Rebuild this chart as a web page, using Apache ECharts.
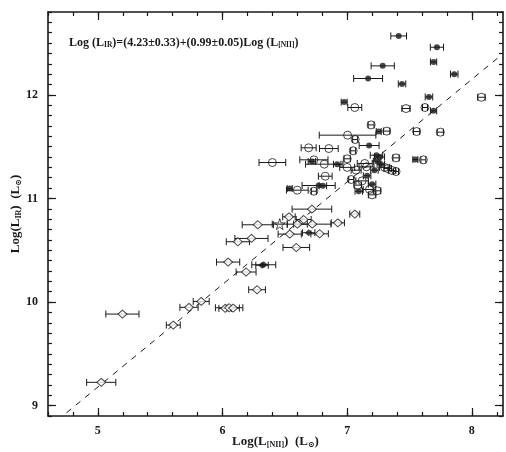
<!DOCTYPE html>
<html>
<head>
<meta charset="utf-8">
<script src="https://cdn.jsdelivr.net/npm/echarts@6/dist/echarts.min.js"></script>
<style>
  html, body { margin: 0; background: #fff; }
  #chart { width: 506px; height: 452px; }
</style>
</head>
<body>
<div id="chart"></div>
<script>
// each point: [log L_[NII], log L_IR, half error bar in x]
const filledCircles = [
  [7.413, 12.569, 0.063], [7.72, 12.46, 0.053], [7.285, 12.28, 0.093],
  [7.693, 12.318, 0.025], [7.859, 12.2, 0.03], [7.168, 12.158, 0.116],
  [7.44, 12.106, 0.03], [7.656, 11.98, 0.03], [6.976, 11.93, 0.024],
  [7.693, 11.846, 0.025], [7.253, 11.646, 0.02], [7.176, 11.511, 0.08],
  [6.717, 11.357, 0.03], [6.92, 11.33, 0.03], [7.235, 11.418, 0.05],
  [7.26, 11.40, 0.04], [7.547, 11.376, 0.02], [7.219, 11.273, 0.03],
  [7.16, 11.219, 0.03], [7.2, 11.138, 0.03], [6.771, 11.125, 0.133],
  [6.805, 11.122, 0.03], [6.539, 11.096, 0.02], [7.093, 11.07, 0.03],
  [7.27, 11.33, 0.03], [7.24, 11.36, 0.03]
];
const openCircles = [
  [7.061, 11.878, 0.056], [7.472, 11.868, 0.033], [7.624, 11.878, 0.02],
  [8.077, 11.977, 0.03], [7.192, 11.71, 0.024], [7.317, 11.65, 0.025],
  [7.557, 11.646, 0.025], [7.747, 11.64, 0.025], [7.003, 11.611, 0.227],
  [7.064, 11.569, 0.02], [6.691, 11.489, 0.06], [6.853, 11.482, 0.075],
  [7.048, 11.46, 0.02], [6.4, 11.347, 0.107], [6.733, 11.373, 0.113],
  [6.816, 11.331, 0.15], [7.0, 11.383, 0.025], [7.0, 11.3, 0.06],
  [7.072, 11.273, 0.04], [7.141, 11.338, 0.06], [7.392, 11.392, 0.025],
  [7.611, 11.373, 0.02], [7.392, 11.26, 0.02], [7.325, 11.289, 0.03],
  [7.155, 11.305, 0.06], [7.032, 11.183, 0.02], [6.824, 11.215, 0.055],
  [7.085, 11.129, 0.03], [6.6, 11.08, 0.087], [6.733, 11.07, 0.02],
  [7.2, 11.035, 0.03], [7.24, 11.074, 0.03], [7.179, 11.087, 0.05],
  [7.12, 11.17, 0.05], [7.3, 11.3, 0.04], [7.36, 11.27, 0.03]
];
const openDiamonds = [
  [6.717, 10.897, 0.159], [7.061, 10.849, 0.04], [6.925, 10.765, 0.053],
  [6.533, 10.823, 0.05], [6.651, 10.797, 0.06], [6.72, 10.752, 0.15],
  [6.283, 10.746, 0.125], [6.6, 10.752, 0.08], [6.539, 10.656, 0.093],
  [6.779, 10.659, 0.07], [6.232, 10.614, 0.133], [6.123, 10.582, 0.093],
  [6.592, 10.527, 0.107], [6.045, 10.386, 0.093], [6.189, 10.29, 0.08],
  [6.277, 10.119, 0.067], [5.829, 10.006, 0.064], [5.731, 9.949, 0.073],
  [6.021, 9.939, 0.05], [6.053, 9.945, 0.11], [6.085, 9.942, 0.05],
  [5.197, 9.884, 0.133], [5.605, 9.778, 0.056], [5.027, 9.225, 0.117]
];
const filledDiamonds = [
  [6.691, 10.669, 0.05], [6.331, 10.36, 0.096], [6.317, 10.355, 0.05]
];
const stars = [
  [6.459, 10.752, 0.06]
];

const xRange = [4.6, 8.25];
const yRange = [8.9, 12.8];
const xTicks = [5, 6, 7, 8];
const yTicks = [9, 10, 11, 12];
const fitIntercept = 4.23;
const fitSlope = 0.99;

const serif = '"Liberation Serif", "DejaVu Serif", serif';
const ink = '#1a1a1a';

const allPts = filledCircles.concat(openCircles, openDiamonds, filledDiamonds, stars);

function renderErr(params, api) {
  const x = api.value(0), y = api.value(1), e = api.value(2);
  const a = api.coord([x - e, y]);
  const b = api.coord([x + e, y]);
  const h = 3.5;
  const st = { stroke: ink, lineWidth: 1 };
  return {
    type: 'group',
    children: [
      { type: 'line', shape: { x1: a[0], y1: a[1], x2: b[0], y2: b[1] }, style: st },
      { type: 'line', shape: { x1: a[0], y1: a[1] - h, x2: a[0], y2: a[1] + h }, style: st },
      { type: 'line', shape: { x1: b[0], y1: b[1] - h, x2: b[0], y2: b[1] + h }, style: st }
    ]
  };
}

const gridBox = { left: 48, right: 3, top: 12, bottom: 36, outerBoundsMode: 'none', containLabel: false };

function xAxis(grid, position, ticks, len, major) {
  return {
    type: 'value', gridIndex: grid, position: position,
    min: xRange[0], max: xRange[1],
    axisLine: { show: major, lineStyle: { color: ink, width: 1.6 } },
    splitLine: { show: false },
    axisTick: { inside: true, length: len, customValues: ticks, lineStyle: { color: ink, width: 1.2 } },
    axisLabel: {
      show: major && position === 'bottom', customValues: ticks, margin: 9,
      color: ink, fontFamily: serif, fontWeight: 'bold', fontSize: 12
    }
  };
}
function yAxis(grid, position, ticks, len, major) {
  return {
    type: 'value', gridIndex: grid, position: position,
    min: yRange[0], max: yRange[1],
    axisLine: { show: major, lineStyle: { color: ink, width: 1.6 } },
    splitLine: { show: false },
    axisTick: { inside: true, length: len, customValues: ticks, lineStyle: { color: ink, width: 1.2 } },
    axisLabel: {
      show: major && position === 'left', customValues: ticks, margin: 10,
      color: ink, fontFamily: serif, fontWeight: 'bold', fontSize: 12
    }
  };
}

const xMinor = [], yMinor = [];
for (let i = 23; i <= 41; i++) xMinor.push(+(i * 0.2).toFixed(1));
for (let i = 89; i <= 128; i++) yMinor.push(+(i * 0.1).toFixed(1));

const xAxes = [
  xAxis(0, 'bottom', xTicks, 8, true),
  xAxis(0, 'top', xTicks, 8, true),
  xAxis(1, 'bottom', xMinor, 4, false),
  xAxis(1, 'top', xMinor, 4, false)
];
const yAxes = [
  yAxis(0, 'left', yTicks, 8, true),
  yAxis(0, 'right', yTicks, 8, true),
  yAxis(1, 'left', yMinor, 4, false),
  yAxis(1, 'right', yMinor, 4, false)
];

const nameRich = {
  b: { fontFamily: serif, fontWeight: 'bold', fontSize: 13, color: ink },
  s: { fontFamily: serif, fontWeight: 'bold', fontSize: 8, color: ink, padding: [6, 0, 0, 0] }
};
xAxes[0].name = '{b|Log(L}{s|[NII]}{b|)  (L}{s|⊙}{b|)}';
xAxes[0].nameLocation = 'middle';
xAxes[0].nameGap = 19;
xAxes[0].nameMoveOverlap = false;
xAxes[0].nameTextStyle = { rich: nameRich };
yAxes[0].name = '{b|Log(L}{s|IR}{b|)  (L}{s|⊙}{b|)}';
yAxes[0].nameLocation = 'middle';
yAxes[0].nameGap = 25;
yAxes[0].nameMoveOverlap = false;
yAxes[0].nameTextStyle = { rich: nameRich };

const chart = echarts.init(document.getElementById('chart'));
chart.setOption({
  animation: false,
  backgroundColor: '#fff',
  grid: [gridBox, gridBox],
  xAxis: xAxes,
  yAxis: yAxes,
  graphic: [{
    type: 'text', left: 69, top: 37, z: 10,
    style: {
      text: '{b|Log (L}{s|IR}{b|)=(4.23±0.33)+(0.99±0.05)Log (L}{s|[NII]}{b|)}',
      rich: {
        b: { fontFamily: serif, fontWeight: 'bold', fontSize: 12, fill: ink },
        s: { fontFamily: serif, fontWeight: 'bold', fontSize: 7.5, fill: ink, padding: [5, 0, 0, 0] }
      }
    }
  }],
  series: [
    {
      type: 'line', xAxisIndex: 0, yAxisIndex: 0, clip: true, symbol: 'none',
      lineStyle: { color: ink, width: 1, type: [6, 6] },
      data: [xRange[0], xRange[1]].map(x => [x, fitIntercept + fitSlope * x]),
      z: 1
    },
    {
      type: 'custom', xAxisIndex: 0, yAxisIndex: 0, renderItem: renderErr,
      encode: { x: 0, y: 1 }, data: allPts, z: 2
    },
    {
      type: 'scatter', xAxisIndex: 0, yAxisIndex: 0, symbol: 'circle', symbolSize: 6,
      itemStyle: { color: ink }, data: filledCircles.map(p => [p[0], p[1]]), z: 4
    },
    {
      type: 'scatter', xAxisIndex: 0, yAxisIndex: 0, symbol: 'circle', symbolSize: 8,
      itemStyle: { color: 'rgba(255,255,255,0)', borderColor: ink, borderWidth: 1 },
      data: openCircles.map(p => [p[0], p[1]]), z: 3
    },
    {
      type: 'scatter', xAxisIndex: 0, yAxisIndex: 0, symbol: 'diamond', symbolSize: [9, 8],
      itemStyle: { color: '#fff', borderColor: ink, borderWidth: 1 },
      data: openDiamonds.map(p => [p[0], p[1]]), z: 3
    },
    {
      type: 'scatter', xAxisIndex: 0, yAxisIndex: 0, symbol: 'diamond', symbolSize: [8, 7],
      itemStyle: { color: ink }, data: filledDiamonds.map(p => [p[0], p[1]]), z: 4
    },
    {
      type: 'scatter', xAxisIndex: 0, yAxisIndex: 0,
      symbol: 'path://M50,0 L61,35 L98,35 L68,57 L79,91 L50,70 L21,91 L32,57 L2,35 L39,35 Z',
      symbolSize: 11,
      itemStyle: { color: 'rgba(255,255,255,0)', borderColor: ink, borderWidth: 1 },
      data: stars.map(p => [p[0], p[1]]), z: 3
    }
  ]
});
</script>
</body>
</html>
